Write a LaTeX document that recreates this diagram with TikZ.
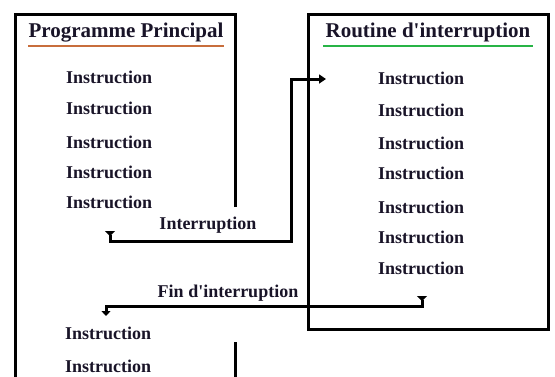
\documentclass[tikz,border=0pt]{standalone}
\usepackage{fontspec}
\setmainfont{Liberation Serif}[Ligatures=TeXOff]
\usetikzlibrary{arrows.meta}
\definecolor{ulorange}{RGB}{200,110,60}
\definecolor{ulgreen}{RGB}{40,180,70}
\definecolor{txt}{RGB}{25,20,40}
\tikzset{
  instr/.style={anchor=west,inner sep=0pt,font=\fontsize{18}{20}\selectfont\bfseries,text=txt},
  ttl/.style={inner sep=0pt,font=\fontsize{21}{24}\selectfont\bfseries,text=txt},
  lbl/.style={inner sep=0pt,font=\fontsize{18}{20}\selectfont\bfseries,text=txt},
  frame/.style={line width=3pt,line join=miter},
  conn/.style={line width=3pt,line join=miter},
  ul/.style={line width=2.8pt}
}
\begin{document}
\begin{tikzpicture}[x=1pt,y=-1pt]
\useasboundingbox (0,0) rectangle (555,376);
% left frame
\draw[frame] (235,207) -- (235,14) -- (15,14) -- (15,380);
\draw[frame] (235,342) -- (235,380);
% right frame
\draw[frame] (308,14) rectangle (548,329);
% titles
\node[ttl] (tp) at (126,33) {Programme Principal};
\draw[ul,ulorange] (28,46) -- (224,46);
\node[ttl] (tr) at (428,32) {Routine d'interruption};
\draw[ul,ulgreen] (323,46) -- (533,46);
% left instructions
\node[instr] (l1) at (66,77) {Instruction};
\node[instr] (l2) at (66,108) {Instruction};
\node[instr] (l3) at (66,142) {Instruction};
\node[instr] (l4) at (66,172) {Instruction};
\node[instr] (l5) at (66,202) {Instruction};
\node[instr] (l6) at (65,333) {Instruction};
\node[instr] (l7) at (65,366) {Instruction};
% right instructions
\node[instr] (r1) at (378,78) {Instruction};
\node[instr] (r2) at (378,110) {Instruction};
\node[instr] (r3) at (378,143) {Instruction};
\node[instr] (r4) at (378,173) {Instruction};
\node[instr] (r5) at (378,207) {Instruction};
\node[instr] (r6) at (378,237) {Instruction};
\node[instr] (r7) at (378,268) {Instruction};
% labels
\node[lbl] (li) at (208,225) {Interruption};
\node[lbl] (lf) at (228,293) {Fin d'interruption};
% connectors
\coordinate (i0) at (110,231);
\coordinate (i1) at (110,241);
\coordinate (i2) at (291,241);
\coordinate (i3) at (291,79);
\coordinate (i4) at (326,79);
\draw[conn,{Triangle[reversed,width=10pt,length=5pt]}-{Triangle[width=9pt,length=7pt]}]
  (i0) -- (i1) -- (i2) -- (i3) -- (i4);
\coordinate (f0) at (422,296);
\coordinate (f1) at (422,306);
\coordinate (f2) at (106,306);
\coordinate (f3) at (106,316);
\draw[conn,{Triangle[reversed,width=10pt,length=5pt]}-{Triangle[width=9pt,length=5pt]}]
  (f0) -- (f1) -- (f2) -- (f3);
\end{tikzpicture}
\end{document}
